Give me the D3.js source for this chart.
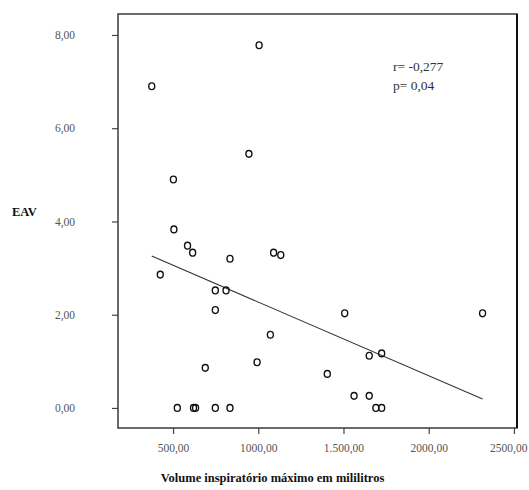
<!DOCTYPE html>
<html>
<head>
    <title>EAV x Volume inspiratório máximo</title>
    <script src="https://d3js.org/d3.v7.min.js"></script>
    <style>
        body, html {
            margin: 0;
            padding: 0;
            background: #fff;
        }
        .tick-label {
            font-family: 'Liberation Serif', 'DejaVu Serif', serif;
            font-size: 11.5px;
            fill: #555;
        }
        .axis-title {
            font-family: 'Liberation Serif', 'DejaVu Serif', serif;
            font-size: 12.5px;
            font-weight: bold;
            fill: #111;
        }
        .stats {
            font-family: 'Liberation Serif', 'DejaVu Serif', serif;
            font-size: 13.5px;
            fill: #333;
        }
    </style>
</head>
<body>
<script>
    // Volume inspiratório máximo (ml) and EAV
    const volume = [375, 1005, 945, 502, 505, 585, 615, 834, 1090, 1132,
                    425, 748, 811, 748, 1507, 2316, 1071, 689, 993, 1405,
                    1651, 1724, 1562, 1651, 525, 620, 632, 748, 834, 1690, 1724];
    const eav = [6.9, 7.78, 5.45, 4.9, 3.83, 3.48, 3.33, 3.2, 3.33, 3.28,
                 2.86, 2.52, 2.52, 2.1, 2.03, 2.03, 1.57, 0.86, 0.98, 0.73,
                 1.12, 1.17, 0.26, 0.26, 0, 0, 0, 0, 0, 0, 0];

    const xTicks = [500, 1000, 1500, 2000, 2500];
    const xTickLabels = ["500,00", "1000,00", "1.500,00", "2000,00", "2500,00"];
    const yTicks = [0, 2, 4, 6, 8];
    const yTickLabels = ["0,00", "2,00", "4,00", "6,00", "8,00"];

    // fitted line: EAV = a + b * volume
    const fitIntercept = 3.85;
    const fitSlope = -0.00158;
    const statsText = ["r= -0,277", "p= 0,04"];

    const width = 529, height = 490;
    const frame = {left: 118, right: 517, top: 14, bottom: 428};

    const x = d3.scaleLinear().domain([177, 2518]).range([frame.left, frame.right]);
    const y = d3.scaleLinear().domain([-0.43, 8.45]).range([frame.bottom, frame.top]);

    const svg = d3.select("body").append("svg")
        .attr("width", width)
        .attr("height", height);

    // axes (ticks outside the frame)
    const xAxis = svg.append("g")
        .attr("transform", `translate(0,${frame.bottom})`)
        .call(d3.axisBottom(x).tickValues(xTicks).tickSize(6).tickPadding(5)
            .tickFormat((d, i) => xTickLabels[i]));
    const yAxis = svg.append("g")
        .attr("transform", `translate(${frame.left},0)`)
        .call(d3.axisLeft(y).tickValues(yTicks).tickSize(6).tickPadding(37)
            .tickFormat((d, i) => yTickLabels[i]));

    [xAxis, yAxis].forEach(a => {
        a.select(".domain").remove();
        a.selectAll(".tick line").attr("stroke", "#444").attr("stroke-width", 1.2);
        a.selectAll(".tick text")
            .attr("class", "tick-label")
            .attr("fill", null)
            .style("fill", "#555");
    });
    xAxis.selectAll(".tick text").attr("dy", "1.15em");
    // last label sits against the window edge, as in the original
    xAxis.selectAll(".tick text").filter(d => d === 2500)
        .attr("text-anchor", "end")
        .attr("dx", 13);

    // frame
    svg.append("rect")
        .attr("x", frame.left)
        .attr("y", frame.top)
        .attr("width", frame.right - frame.left)
        .attr("height", frame.bottom - frame.top)
        .attr("fill", "none")
        .attr("stroke", "#3a3a3a")
        .attr("stroke-width", 1.5);
    svg.append("line")
        .attr("x1", frame.right).attr("x2", frame.right)
        .attr("y1", frame.top).attr("y2", frame.bottom)
        .attr("stroke", "#111")
        .attr("stroke-width", 2);

    // regression line across the data range
    const xExt = d3.extent(volume);
    svg.append("line")
        .attr("x1", x(xExt[0]))
        .attr("y1", y(fitIntercept + fitSlope * xExt[0]))
        .attr("x2", x(xExt[1]))
        .attr("y2", y(fitIntercept + fitSlope * xExt[1]))
        .attr("stroke", "#333")
        .attr("stroke-width", 1.1);

    // points
    svg.append("g")
        .selectAll("ellipse")
        .data(d3.range(volume.length))
        .join("ellipse")
            .attr("cx", i => x(volume[i]))
            .attr("cy", i => y(eav[i]))
            .attr("rx", 3)
            .attr("ry", 3.4)
            .attr("fill", "none")
            .attr("stroke", "#111")
            .attr("stroke-width", 1.4);

    // r and p
    svg.append("g")
        .selectAll("text")
        .data(statsText)
        .join("text")
            .attr("class", "stats")
            .attr("x", 393)
            .attr("y", (d, i) => 71 + i * 19)
            .style("fill", "#333")
            .text(d => d);

    // axis titles
    svg.append("text")
        .attr("class", "axis-title")
        .attr("x", 12)
        .attr("y", 216)
        .text("EAV");
    svg.append("text")
        .attr("class", "axis-title")
        .attr("x", (frame.left + frame.right) / 2 - 45)
        .attr("y", 482)
        .attr("text-anchor", "middle")
        .text("Volume inspiratório máximo em mililitros");
</script>
</body>
</html>
